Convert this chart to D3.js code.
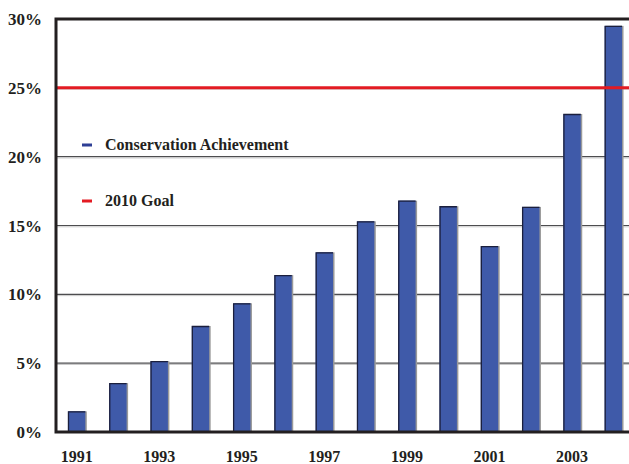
<!DOCTYPE html>
<html>
<head>
<meta charset="utf-8">
<script src="https://cdn.jsdelivr.net/npm/d3@7"></script>
<style>
  body { margin: 0; background: #fff; }
  svg text { font-family: "Liberation Serif", "DejaVu Serif", "Times New Roman", serif; font-weight: bold; fill: #231f20; }
</style>
</head>
<body>
<script>
// data
let years = [1991, 1992, 1993, 1994, 1995, 1996, 1997, 1998, 1999, 2000, 2001, 2002, 2003, 2004]
let achievement = [1.5, 3.55, 5.15, 7.7, 9.35, 11.4, 13.05, 15.3, 16.8, 16.4, 13.5, 16.35, 23.1, 29.5]
let goal = 25
let yTicks = [0, 5, 10, 15, 20, 25, 30]
let xLabels = [1991, 1993, 1995, 1997, 1999, 2001, 2003]
let legendItems = [
    { label: 'Conservation Achievement', color: '#2e3f95' },
    { label: '2010 Goal', color: '#e31b23' }
]

let width = 629, height = 464
let margin = { top: 19, right: -5, bottom: 32, left: 56 }

let svg = d3.select('body')
    .append('svg')
    .attr('width', width)
    .attr('height', height)

let x = d3.scaleBand()
    .domain(years)
    .range([margin.left, width - margin.right])
    .paddingInner(0.58)
    .paddingOuter(0.29)

let y = d3.scaleLinear()
    .domain([0, 30])
    .range([height - margin.bottom, margin.top])

// gridlines
svg.append('g')
    .selectAll('line')
    .data(yTicks.filter(d => d > 0 && d < 30))
    .enter().append('line')
    .attr('x1', margin.left)
    .attr('x2', width)
    .attr('y1', d => y(d))
    .attr('y2', d => y(d))
    .style('stroke', '#4d4d4f')
    .style('stroke-width', 1.2)

svg.append('g')
    .selectAll('line')
    .data(yTicks.filter(d => d > 0 && d < 30))
    .enter().append('line')
    .attr('x1', margin.left)
    .attr('x2', width)
    .attr('y1', d => y(d) + 1.3)
    .attr('y2', d => y(d) + 1.3)
    .style('stroke', '#c8c8c8')
    .style('stroke-width', 1)

// bars: shadow, fill, dark edge top/left
let bars = svg.append('g')
    .selectAll('g')
    .data(years.map((d, i) => ({ year: d, value: achievement[i] })))
    .enter().append('g')

bars.append('rect')
    .attr('x', d => x(d.year) + 1.5)
    .attr('y', d => y(d.value))
    .attr('width', x.bandwidth())
    .attr('height', d => y(0) - y(d.value))
    .style('fill', '#9a9a9a')

bars.append('rect')
    .attr('x', d => x(d.year))
    .attr('y', d => y(d.value))
    .attr('width', x.bandwidth())
    .attr('height', d => y(0) - y(d.value))
    .style('fill', '#3f5aa9')

bars.append('path')
    .attr('d', d => `M${x(d.year) + 0.5},${y(0)}V${y(d.value) + 0.5}H${x(d.year) + x.bandwidth()}`)
    .style('fill', 'none')
    .style('stroke', '#1b1f3d')
    .style('stroke-width', 1.3)

// goal line
svg.append('line')
    .attr('x1', margin.left)
    .attr('x2', width)
    .attr('y1', y(goal))
    .attr('y2', y(goal))
    .style('stroke', '#e31b23')
    .style('stroke-width', 3)

// frame: top, left, bottom
svg.append('path')
    .attr('d', `M${width},${y(30)}H${margin.left}V${y(0)}H${width}`)
    .style('fill', 'none')
    .style('stroke', '#231f20')
    .style('stroke-width', 3)

// y labels
svg.append('g')
    .selectAll('text')
    .data(yTicks)
    .enter().append('text')
    .attr('x', 42)
    .attr('y', d => y(d) + 6)
    .attr('text-anchor', 'end')
    .style('font-size', '17px')
    .text(d => d + '%')

// x labels
svg.append('g')
    .selectAll('text')
    .data(xLabels)
    .enter().append('text')
    .attr('x', d => x(d) + x.bandwidth() / 2)
    .attr('y', 462)
    .attr('text-anchor', 'middle')
    .style('font-size', '16px')
    .text(d => d)

// legend
let legend = svg.append('g')
    .selectAll('g')
    .data(legendItems)
    .enter().append('g')
    .attr('transform', (d, i) => `translate(82,${145 + i * 56})`)

legend.append('rect')
    .attr('x', 0)
    .attr('y', -1.5)
    .attr('width', 10)
    .attr('height', 3)
    .style('fill', d => d.color)

legend.append('text')
    .attr('x', 23)
    .attr('y', 5)
    .style('font-size', '16px')
    .text(d => d.label)
</script>
</body>
</html>
